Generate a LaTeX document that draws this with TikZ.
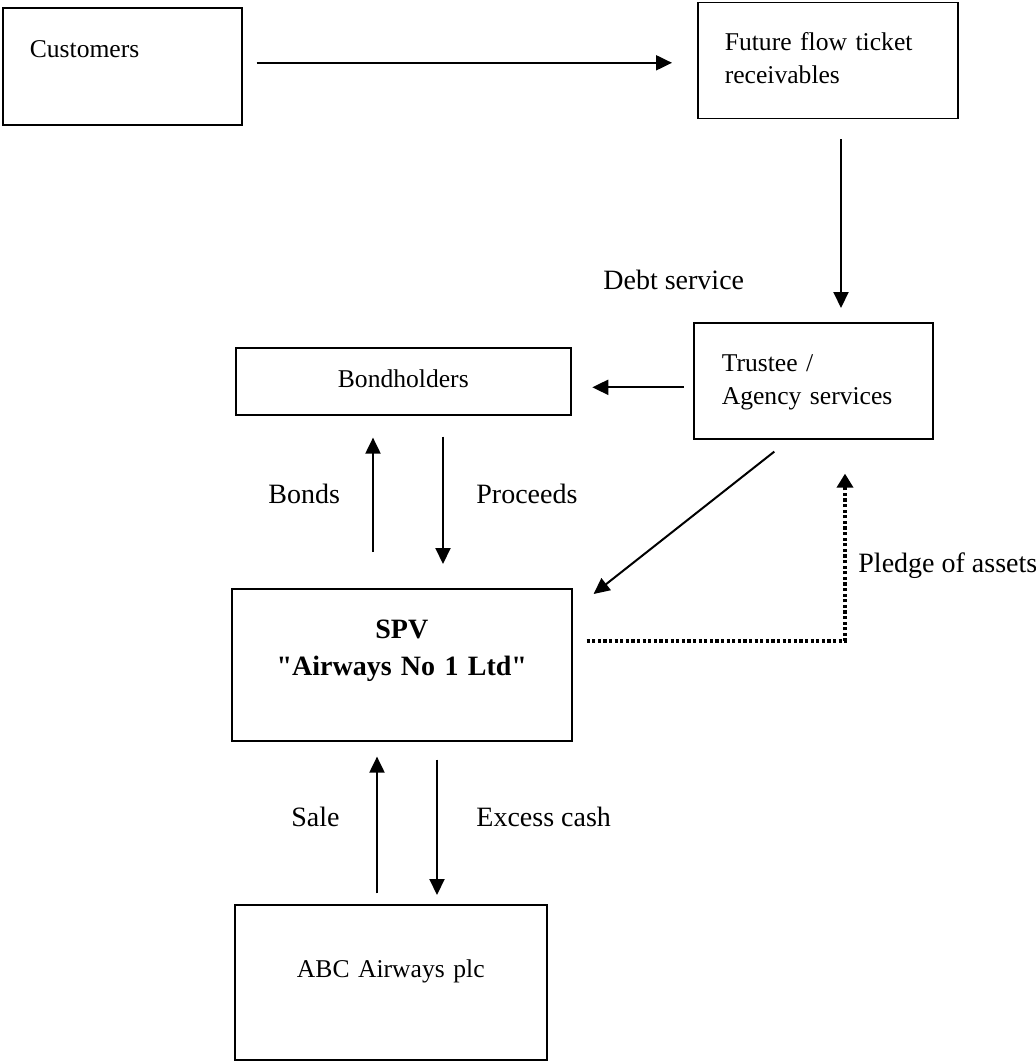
\documentclass[tikz,border=0pt]{standalone}
\usepackage{fontspec}
\setmainfont{Liberation Serif}[Ligatures=TeXOff]
\usepackage{tikz}
\usetikzlibrary{arrows.meta}

\begin{document}
\begin{tikzpicture}[x=0.5pt, y=-0.5pt,
  party/.style={draw, line width=0.8pt, inner ysep=0pt, anchor=north west,
    font=\fontsize{12.8pt}{16.4pt}\selectfont},
  flow/.style={-{Triangle[length=8pt,width=7.5pt]}, line width=1pt},
  pledge/.style={-{Triangle[length=7pt,width=8pt]}, line width=2pt,
    dash pattern=on 1.6pt off 1.2pt},
  tag/.style={inner sep=0pt, anchor=base west, font=\fontsize{14pt}{17pt}\selectfont}]

\useasboundingbox (0,0) rectangle (1036,1061);

% the parties of the future flow deal
\path
(2,7) node[party, align=left, inner xsep=13.5pt, text width=92.5pt,
  text height=25pt, text depth=33.5pt] (cust) {Customers};
\path
(697,1.5) node[party, align=left, inner xsep=13.5pt, text width=103pt,
  text height=24pt, text depth=34pt] (fftr) {Future flow ticket\\receivables};
\path
(693,322) node[party, align=left, inner xsep=14pt, text width=91.5pt,
  text height=24.5pt, text depth=33.5pt] (trust) {Trustee /\\Agency services};
\path
(235,347) node[party, align=center, inner xsep=0pt, text width=167.5pt,
  text height=20pt, text depth=13.5pt] (bond) {Bondholders};
\path
(231,588) node[party, align=center, inner xsep=0pt, text width=170pt,
  text height=25pt, text depth=51pt,
  font=\fontsize{14pt}{18.5pt}\selectfont\bfseries] (spv)
  {SPV\\"Airways No 1 Ltd"};
\path
(234,904) node[party, align=center, inner xsep=0pt, text width=156pt,
  text height=36.5pt, text depth=41pt] (abc) {ABC Airways plc};

% cash and asset flows
\draw[flow, shorten >=12.5pt] ([xshift=7pt,yshift=1.75pt]cust.east) -- ([yshift=1.75pt]cust.east -| fftr.west);
\draw[flow, shorten <=10pt, shorten >=7pt] (fftr.south -| 841,0) -- (trust.north -| 841,0);
\draw[flow, shorten <=4.75pt, shorten >=10.35pt] ([yshift=-3.25pt]trust.west) -- ([yshift=-3.25pt]trust.west -| bond.east);
\draw[flow] ([shift={(-39,12)}]trust.south) -- ([shift={(21,6)}]spv.north east);

\draw[flow, shorten <=18pt, shorten >=11pt] (spv.north -| 373,0) -- (bond.south -| 373,0);
\draw[flow, shorten <=10.5pt, shorten >=12pt] (bond.south -| 443,0) -- (spv.north -| 443,0);

\draw[flow, shorten <=5.35pt, shorten >=7.5pt] (abc.north -| 377,0) -- (spv.south -| 377,0);
\draw[flow, shorten <=9pt, shorten >=4.5pt] (spv.south -| 437,0) -- (abc.north -| 437,0);

\draw[pledge, shorten >=17pt] ([shift={(14,-24)}]spv.east) -| (trust.south -| 845,0);

% labels
\path
(603,289) node[tag] (debtlbl) {Debt service}
(268,503) node[tag] (bondslbl) {Bonds}
(476,503) node[tag] (proclbl) {Proceeds}
(291,826) node[tag] (salelbl) {Sale}
(476,826) node[tag] (cashlbl) {Excess cash}
(858,572) node[tag] (pledgelbl) {Pledge of assets};

\end{tikzpicture}
\end{document}
